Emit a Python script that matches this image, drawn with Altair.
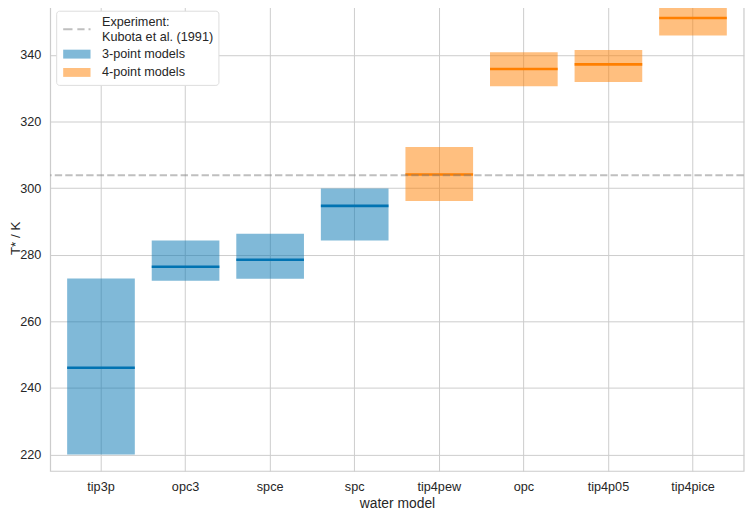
import altair as alt
import pandas as pd

models = ["tip3p", "opc3", "spce", "spc", "tip4pew", "opc", "tip4p05", "tip4pice"]
low = [220.0, 272.2, 272.8, 284.3, 296.2, 330.6, 331.9, 345.9]
high = [272.9, 284.3, 286.3, 299.9, 312.4, 340.8, 341.5, 356.0]
median = [246.1, 276.4, 278.5, 294.7, 304.1, 335.8, 337.2, 351.1]
groups = ["3-point models"] * 4 + ["4-point models"] * 4
experiment = [303.9]
legend_labels = ["Experiment:\nKubota et al. (1991)", "3-point models", "4-point models"]
y_ticks = [220, 240, 260, 280, 300, 320, 340]

BLUE = "#0173b2"
ORANGE = "#ff7f00"
GRAY = "#808080"
FONT = "Liberation Sans"
TXT = "#262626"

df = pd.DataFrame({"model": models, "low": low, "high": high,
                   "median": median, "group": groups})
df_exp = pd.DataFrame({"T": experiment})
df_leg = pd.DataFrame({"entry": legend_labels})

xenc = alt.X("model:N", sort=models, title="water model",
             scale=alt.Scale(paddingInner=0.2, paddingOuter=0.2),
             axis=alt.Axis(labelAngle=0, bandPosition=0.5, grid=True, ticks=False,
                           tickSize=0, labelPadding=10, titlePadding=3, domain=False))
yscale = alt.Scale(domain=[215.07, 355.1], nice=False, zero=False)
yaxis = alt.Axis(values=y_ticks, ticks=False, tickSize=0, labelPadding=9.5, grid=True,
                 titlePadding=-2.5, titleFontSize=13.5, domain=False, title="T* / K")

fill_cond = alt.condition(alt.datum.group == "3-point models", alt.value(BLUE), alt.value(ORANGE))

bars = alt.Chart(df).mark_bar(opacity=0.5, clip=True).encode(
    x=xenc,
    y=alt.Y("low:Q", scale=yscale, axis=yaxis),
    y2="high:Q",
    color=fill_cond,
)

ticks = alt.Chart(df).mark_tick(thickness=2.6, size=68.4, opacity=1, clip=True).encode(
    x=alt.X("model:N", sort=models),
    y=alt.Y("median:Q"),
    color=fill_cond,
)

rule = alt.Chart(df_exp).mark_rule(strokeDash=[7.4, 3.2], strokeWidth=2,
                                   color=GRAY, opacity=0.5).encode(
    y=alt.Y("T:Q")
)

# legend glyphs (dash glyph lowered to sit between the two label lines)
dash_path = ("M-3.07,1.42H-0.98V1.86H-3.07Z M0.11,1.42H1.73V1.86H0.11Z "
             "M2.62,1.42H3.07V1.86H2.62Z")
rect_path = "M-3.07,-1H3.07V1H-3.07Z"

leg = alt.Chart(df_leg).mark_point(filled=True, opacity=0).encode(
    color=alt.Color("entry:N", sort=legend_labels,
                    scale=alt.Scale(domain=legend_labels, range=[GRAY, BLUE, ORANGE]),
                    legend=alt.Legend(title=None, orient="top-left", offset=5.5,
                                      padding=5, rowPadding=4.5, labelOffset=19,
                                      symbolSize=81, symbolOffset=9.5, symbolOpacity=0.5,
                                      symbolStrokeWidth=0, labelFontSize=12.8,
                                      labelFont=FONT, labelColor=TXT,
                                      fillColor="white", strokeColor="#dddddd",
                                      cornerRadius=3, labelLimit=400,
                                      labelExpr="split(datum.label, '\\n')")),
    shape=alt.Shape("entry:N", sort=legend_labels,
                    scale=alt.Scale(domain=legend_labels,
                                    range=[dash_path, rect_path, rect_path]),
                    legend=None),
)

chart = alt.layer(bars, ticks, rule, leg).properties(
    width=701, height=471.3,
    padding={"left": 42.7, "top": -6, "right": 2.3, "bottom": 38},
    autosize=alt.AutoSizeParams(type="none"),
    background="white",
).configure_axis(
    labelFont=FONT, titleFont=FONT, labelFontSize=12.8, titleFontSize=14,
    labelColor=TXT, titleColor=TXT, titleFontWeight="normal",
    gridColor="#cccccc", gridWidth=1,
).configure_view(
    stroke="#cccccc", strokeWidth=1.25
)

chart.save("out.html", embed_options={"renderer": "svg", "actions": False})
